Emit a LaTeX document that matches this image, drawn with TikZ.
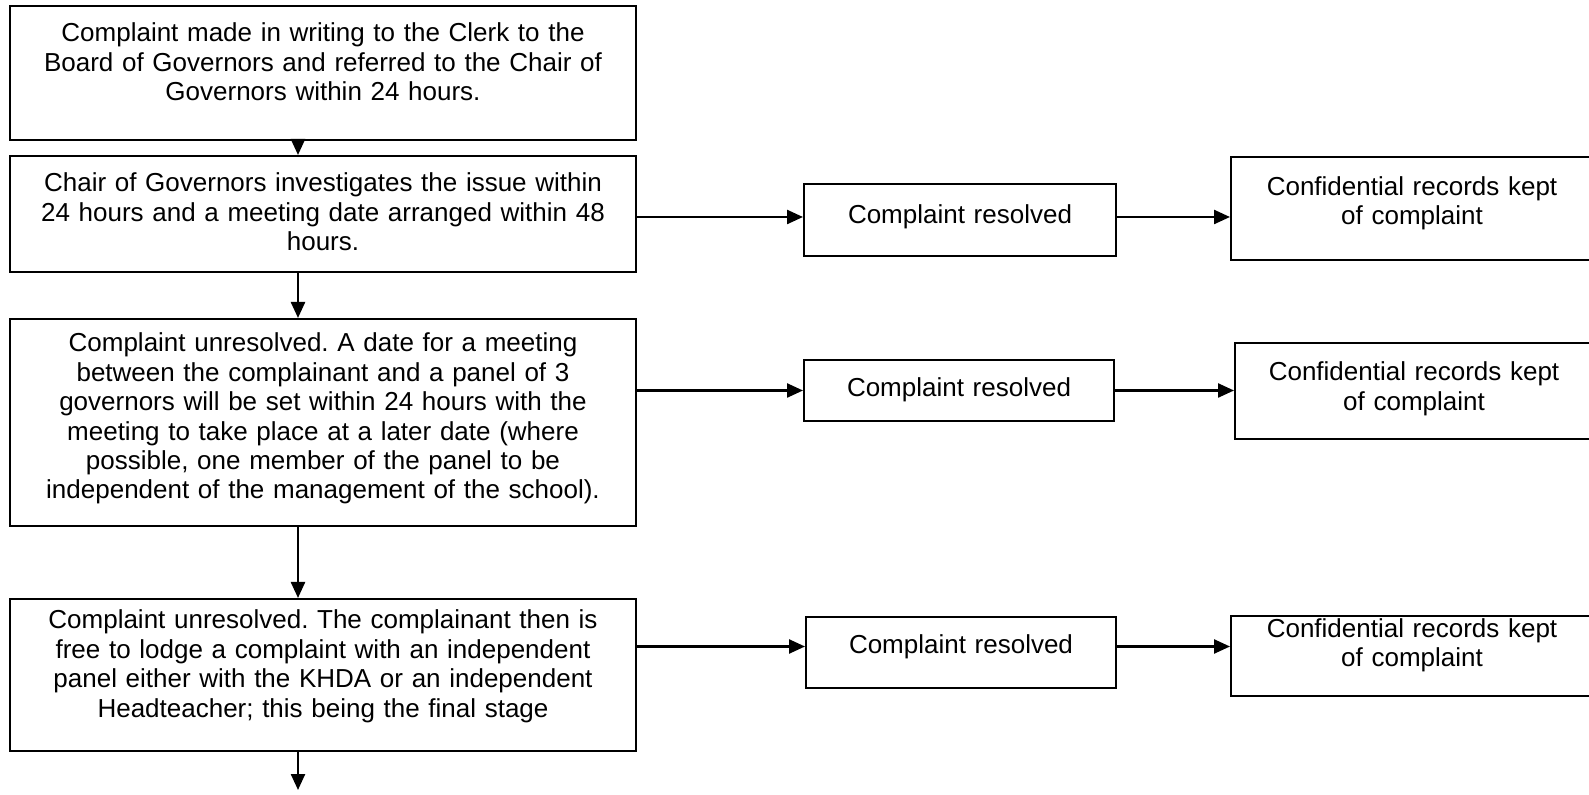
\documentclass[tikz,border=0pt]{standalone}
\usepackage{fontspec}
\setmainfont{Liberation Sans}
\usetikzlibrary{arrows.meta,calc}
\frenchspacing

\begin{document}
\begin{tikzpicture}[x=0.5pt,y=-0.5pt,
  box/.style={draw,line width=1pt,inner sep=0pt,anchor=north west,align=center,
    font=\fontsize{13}{14.7}\selectfont},
  stage/.style={box,minimum width=313pt,text width=300pt},
  arr/.style={-{Triangle[length=8pt,width=7pt]},line width=1.2pt}]
\useasboundingbox (0,0) rectangle (1589,795);
\coordinate (trunk) at (298,0);
\coordinate (tail) at (298,790);
\node[stage,text height=18pt,text depth=49pt] (s1) at (9,5) {Complaint made in writing to the Clerk to the\\Board of Governors and referred to the Chair of\\Governors within 24 hours.};
\node[stage,text height=18pt,text depth=40pt] (s2) at (9,155) {Chair of Governors investigates the issue within\\24 hours and a meeting date arranged within 48\\hours.};
\node[stage,text height=16.5pt,text depth=87pt] (s3) at (9,318) {Complaint unresolved. A date for a meeting\\between the complainant and a panel of 3\\governors will be set within 24 hours with the\\meeting to take place at a later date (where\\possible, one member of the panel to be\\independent of the management of the school).};
\node[stage,text height=15pt,text depth=61pt] (s4) at (9,598) {Complaint unresolved. The complainant then is\\free to lodge a complaint with an independent\\panel either with the KHDA or an independent\\Headteacher; this being the final stage};
\node[box,minimum width=156pt,text width=146pt,text height=20pt,text depth=16pt] (cr1) at (803,183) {Complaint resolved};
\node[box,minimum width=155pt,text width=145pt,text height=18.5pt,text depth=12pt] (cr2) at (803,359) {Complaint resolved};
\node[box,minimum width=155pt,text width=145pt,text height=18.3pt,text depth=17.2pt] (cr3) at (805,616) {Complaint resolved};
\node[box,minimum width=181pt,text width=171pt,text height=19.3pt,text depth=32.2pt] (cfr1) at (1230,156) {Confidential records kept\\of complaint};
\node[box,minimum width=179pt,text width=169pt,text height=19pt,text depth=29pt] (cfr2) at (1234,342) {Confidential records kept\\of complaint};
\node[box,minimum width=181pt,text width=171pt,text height=10.7pt,text depth=29.3pt] (cfr3) at (1230,615) {Confidential records kept\\of complaint};
\draw[arr] (s1.south -| trunk) -- (s2.north -| trunk);
\draw[arr] (s2.south -| trunk) -- (s3.north -| trunk);
\draw[arr] (s3.south -| trunk) -- (s4.north -| trunk);
\draw[arr] (s4.south -| tail) -- (tail);
\draw[arr] ([yshift=1.5pt]s2.east |- cr1.west) -- ([yshift=1.5pt]cr1.west);
\draw[arr] ([yshift=1.5pt]cr1.east) -- ([yshift=1.5pt]cr1.east -| cfr1.west);
\draw[arr] (s3.east |- cr2.west) -- (cr2.west);
\draw[arr] (cr2.east) -- (cr2.east -| cfr2.west);
\draw[arr] ([yshift=3pt]s4.east |- cr3.west) -- ([yshift=3pt]cr3.west);
\draw[arr] ([yshift=3pt]cr3.east) -- ([yshift=3pt]cr3.east -| cfr3.west);
\end{tikzpicture}
\end{document}
